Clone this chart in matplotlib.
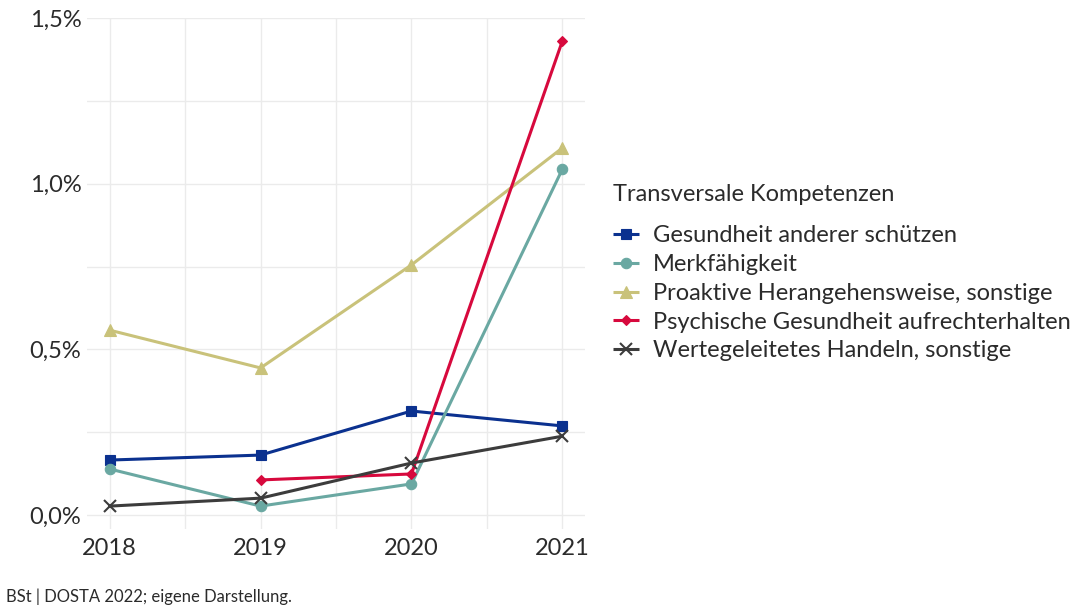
import numpy as np
import matplotlib.pyplot as plt
from matplotlib.ticker import FixedLocator, FuncFormatter

plt.rcParams['font.family'] = ['Lato', 'DejaVu Sans']

#-------------------------------------------------------------------------------
# Data (share in %)
#-------------------------------------------------------------------------------
years = [2018, 2019, 2020, 2021]

gesundheit_schuetzen = [0.166, 0.181, 0.314, 0.269]
merkfaehigkeit       = [0.139, 0.027, 0.094, 1.044]
proaktiv             = [0.558, 0.444, 0.755, 1.108]
psychisch            = [np.nan, 0.106, 0.124, 1.431]
wertegeleitet        = [0.027, 0.051, 0.157, 0.238]

labels = ['Gesundheit anderer schützen',
          'Merkfähigkeit',
          'Proaktive Herangehensweise, sonstige',
          'Psychische Gesundheit aufrechterhalten',
          'Wertegeleitetes Handeln, sonstige']

legend_title = 'Transversale Kompetenzen'
caption      = 'BSt | DOSTA 2022; eigene Darstellung.'

#-------------------------------------------------------------------------------
# Styles
#-------------------------------------------------------------------------------
series  = [gesundheit_schuetzen, merkfaehigkeit, proaktiv, psychisch, wertegeleitet]
colors  = ['#0b318f', '#6aa8a2', '#c9c27a', '#d7093d', '#3c3c3c']
markers = ['s', 'o', '^', 'D', 'x']
msizes  = [7.5, 7.5, 8.5, 5, 8]
txt_c   = '#2b2b2b'
grid_c  = '#ebebeb'

fig = plt.figure(figsize=(10.78, 6.07), dpi=100)
ax  = fig.add_axes([0.0807, 0.128, 0.462, 0.8423])

for vals, lbl, c, m, ms in zip(series, labels, colors, markers, msizes):
    ax.plot(years, vals, color=c, lw=2.2, marker=m, markersize=ms,
            markeredgewidth=1.5 if m == 'x' else 0.8, markeredgecolor=c,
            label=lbl, solid_capstyle='butt')

ax.set_xlim(2017.85, 2021.15)
ax.set_ylim(-0.043, 1.5)
ax.set_xticks(years)
ax.set_yticks([0, 0.5, 1.0, 1.5])
ax.xaxis.set_minor_locator(FixedLocator([2018.5, 2019.5, 2020.5]))
ax.yaxis.set_minor_locator(FixedLocator([0.25, 0.75, 1.25]))
ax.yaxis.set_major_formatter(FuncFormatter(lambda v, p: f'{v:.1f}%'.replace('.', ',')))

ax.grid(True, which='both', color=grid_c, lw=1.0)
ax.set_axisbelow(True)
for s in ax.spines.values():
    s.set_visible(False)
ax.tick_params(which='both', length=0, labelsize=17, labelcolor=txt_c)
ax.tick_params(axis='x', pad=6)
ax.tick_params(axis='y', pad=4)

# legend title drawn separately to get the ggplot-like gap
fig.text(0.5687, 0.679, legend_title, fontsize=17, color=txt_c, ha='left', va='center')
leg = fig.legend(loc='upper left', bbox_to_anchor=(0.5687, 0.629), frameon=False,
                 fontsize=17, handlelength=1.1, handletextpad=0.6, labelspacing=0.33,
                 borderpad=0, borderaxespad=0)
for t in leg.get_texts():
    t.set_color(txt_c)

fig.text(0.006, 0.004, caption, fontsize=12, color=txt_c, ha='left', va='bottom')

fig.savefig('out.png', dpi=100)
plt.close(fig)
